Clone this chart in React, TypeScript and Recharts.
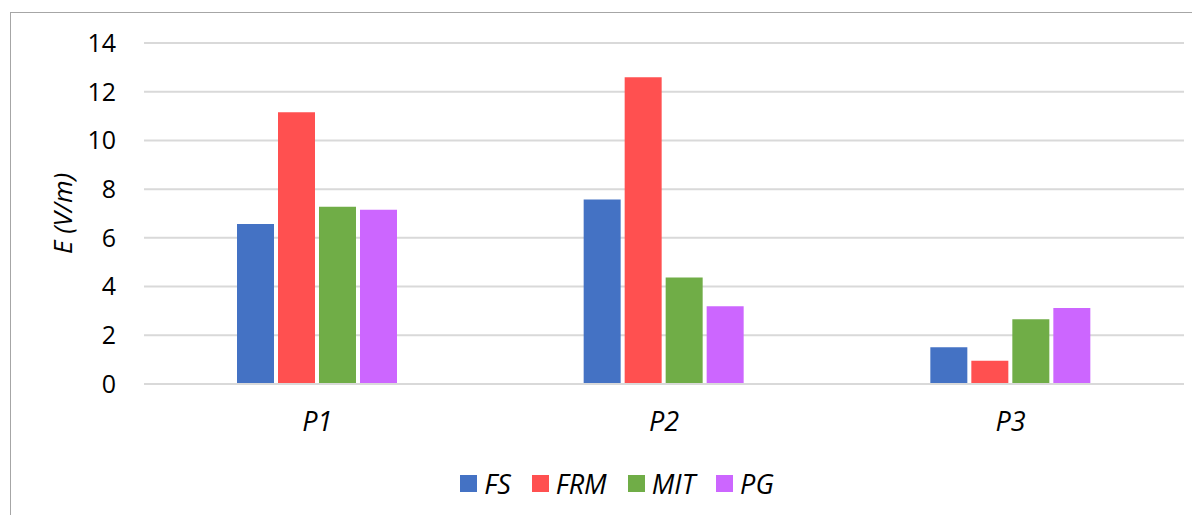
import { BarChart, Bar, XAxis, YAxis, CartesianGrid, Legend } from 'recharts'

const puntos = ['P1', 'P2', 'P3']
const fs = [6.57, 7.57, 1.51]
const frm = [11.16, 12.59, 0.95]
const mit = [7.28, 4.37, 2.66]
const pg = [7.15, 3.19, 3.12]
const ticksY = [0, 2, 4, 6, 8, 10, 12, 14]

const series = [
  { key: 'FS', color: '#4472C4' },
  { key: 'FRM', color: '#FF5050' },
  { key: 'MIT', color: '#70AD47' },
  { key: 'PG', color: '#CC66FF' },
]

const datos = puntos.map((p, i) => ({ punto: p, FS: fs[i], FRM: frm[i], MIT: mit[i], PG: pg[i] }))

const fuente = '"Open Sans", sans-serif'

function Leyenda() {
  return (
    <div style={{ display: 'flex', justifyContent: 'center', alignItems: 'center', gap: 21, paddingLeft: 42, height: 30, fontFamily: fuente, fontStyle: 'italic', fontSize: 27, color: '#000' }}>
      {series.map(s => (
        <div key={s.key} style={{ display: 'flex', alignItems: 'center' }}>
          <span style={{ display: 'inline-block', width: 17, height: 17, background: s.color, marginRight: 7 }} />
          <span>{s.key}</span>
        </div>
      ))}
    </div>
  )
}

export default function App() {
  return (
    <div style={{ position: 'relative', width: 1192, height: 507 }}>
      <div style={{ position: 'absolute', left: 2, top: 4, width: 1190, height: 503, borderTop: '1px solid #a6a6a6', borderLeft: '1px solid #a6a6a6' }} />
      <BarChart
        width={1192}
        height={507}
        data={datos}
        margin={{ top: 35, right: 16, left: 0, bottom: 17 }}
        barSize={37}
        barGap={4}
        style={{ fontFamily: fuente }}
      >
        <CartesianGrid vertical={false} stroke="#d9d9d9" strokeWidth={2} />
        <XAxis
          dataKey="punto"
          height={84}
          axisLine={{ stroke: '#d9d9d9', strokeWidth: 2 }}
          tickLine={false}
          tickSize={0}
          tickMargin={28}
          tick={{ fontSize: 27, fill: '#000', fontStyle: 'italic' }}
        />
        <YAxis
          width={136}
          domain={[0, 14]}
          ticks={ticksY}
          axisLine={false}
          tickLine={false}
          tickSize={0}
          tickMargin={28}
          tick={{ fontSize: 25, fill: '#000' }}
          label={{
            value: 'E (V/m)',
            angle: -90,
            position: 'insideLeft',
            offset: 55,
            style: { textAnchor: 'middle', fontSize: 26, fontStyle: 'italic', fill: '#000' },
          }}
        />
        <Legend verticalAlign="bottom" height={30} content={() => <Leyenda />} />
        {series.map(s => (
          <Bar key={s.key} dataKey={s.key} fill={s.color} isAnimationActive={false} />
        ))}
      </BarChart>
    </div>
  )
}
